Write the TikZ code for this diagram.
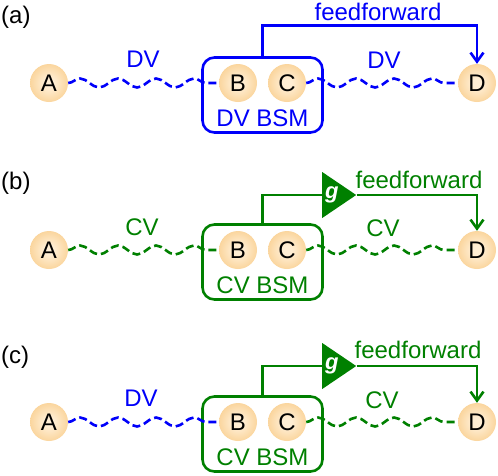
\documentclass[tikz,border=0pt]{standalone}
\usepackage{fontspec}
\setmainfont{Liberation Sans}
\usetikzlibrary{shapes.geometric, arrows.meta, decorations.pathmorphing}

\definecolor{dvblue}{RGB}{0,0,250}
\definecolor{cvgreen}{RGB}{0,128,0}
\definecolor{ballin}{RGB}{255,238,212}
\definecolor{ballout}{RGB}{245,185,95}
\pgfdeclareradialshading{ball}{\pgfpoint{0bp}{0bp}}{color(0bp)=(ballin); color(6bp)=(ballin); color(47bp)=(ballout); color(50bp)=(ballout)}

\tikzset{
  qubit/.style={circle, shading=ball, minimum size=38pt, inner sep=0pt},
  bsm/.style={draw, rounded corners=12pt, line width=2.6pt, minimum width=120pt, minimum height=75pt},
  wave/.style={line width=2.6pt, dash pattern=on 8pt off 4pt, decorate,
    decoration={snake, segment length=38pt, amplitude=4.5pt}},
  ff/.style={line width=2.6pt},
  ffarrow/.style={ff, -{Straight Barb[length=9pt, width=13pt]}},
  gain/.style={isosceles triangle, isosceles triangle stretches, minimum width=46pt,
    minimum height=34pt, inner sep=0pt, anchor=west, text=white,
    font=\fontsize{22}{26}\selectfont\bfseries\itshape},
  tag/.style={anchor=west, inner sep=0pt},
}

\begin{document}
\begin{tikzpicture}[x=1pt, y=-1pt, font=\fontsize{24}{28}\selectfont]
\useasboundingbox (0,0) rectangle (498,475);
% (a) DV chain
\node[tag] (taga) at (1,17) {(a)};
\foreach \n/\x in {A/49,B/238,C/287,D/477} {
    \node[qubit] (a\n) at (\x,83) {\n};
}
\node[bsm, dvblue] (abox) at (262.5,95) {};
\node[dvblue] (absm) at (262.5,118) {DV BSM};
\draw[wave, dvblue] (aA) -- (aB);
\draw[wave, dvblue] (aC) -- (aD);
\node[dvblue] (adv1) at (143,59) {DV};
\node[dvblue] (adv2) at (384,60) {DV};
\draw[ffarrow, dvblue] (abox.north) -- ++(0,-31) -| (aD);
\node[dvblue] (aff) at (378,12) {feedforward};
% (b) CV chain
\node[tag] (tagb) at (1,183) {(b)};
\foreach \n/\x in {A/49,B/238,C/287,D/477} {
    \node[qubit] (b\n) at (\x,250) {\n};
}
\node[bsm, cvgreen] (bbox) at (262.5,262) {};
\node[cvgreen] (bbsm) at (262.5,285) {CV BSM};
\draw[wave, cvgreen] (bA) -- (bB);
\draw[wave, cvgreen] (bC) -- (bD);
\node[cvgreen] (bcv1) at (142,227) {CV};
\node[cvgreen] (bcv2) at (383,228) {CV};
\node[gain, fill=cvgreen] (bgain) at (322,195) {g};
\draw[ff, cvgreen] (bbox.north) |- (bgain.west);
\draw[ffarrow, cvgreen] (bgain.apex) -| (bD);
\node[cvgreen] (bff) at (419,180) {feedforward};
% (c) DV to CV
\node[tag] (tagc) at (1,357) {(c)};
\foreach \n/\x in {A/49,B/238,C/287,D/477} {
    \node[qubit] (c\n) at (\x,422) {\n};
}
\node[bsm, cvgreen] (cbox) at (262.5,434) {};
\node[cvgreen] (cbsm) at (262.5,457) {CV BSM};
\draw[wave, dvblue] (cA) -- (cB);
\draw[wave, cvgreen] (cC) -- (cD);
\node[dvblue] (cdv) at (141,398) {DV};
\node[cvgreen] (ccv) at (382,400) {CV};
\node[gain, fill=cvgreen] (cgain) at (322,366) {g};
\draw[ff, cvgreen] (cbox.north) |- (cgain.west);
\draw[ffarrow, cvgreen] (cgain.apex) -| (cD);
\node[cvgreen] (cff) at (418,350) {feedforward};
\end{tikzpicture}
\end{document}
